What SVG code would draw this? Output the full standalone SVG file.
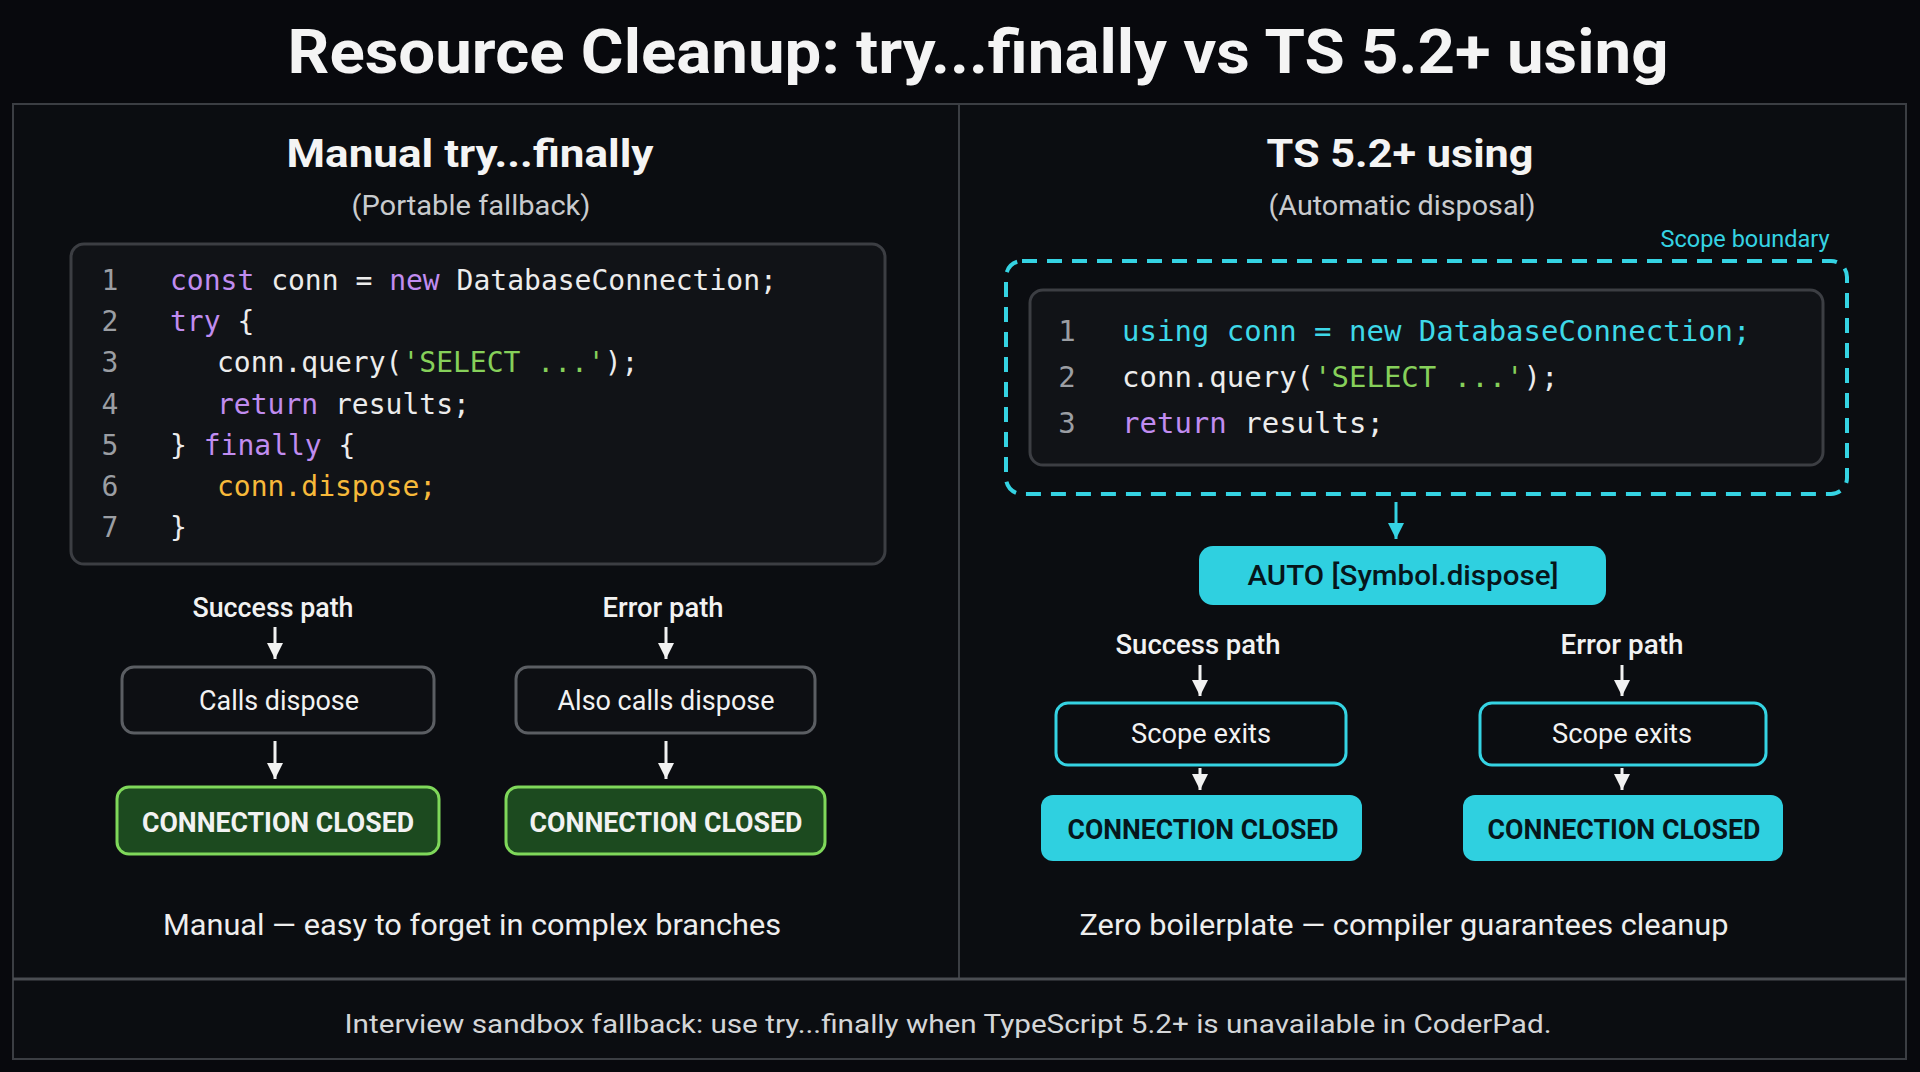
<svg xmlns="http://www.w3.org/2000/svg" width="1920" height="1072" viewBox="0 0 1920 1072">
<style>
.sans{font-family:Roboto,"Liberation Sans",sans-serif}
.mono{font-family:"DejaVu Sans Mono","Liberation Mono",monospace;white-space:pre}
.title{font-size:62px;font-weight:700;fill:#f4f4f4}
.h2{font-size:38px;font-weight:700;fill:#f4f4f4}
.sub{font-size:28px;fill:#c9cbce}
.lbl{font-size:27px;fill:#f2f2f2;font-weight:500}
.node{font-size:27px;fill:#f2f2f2}
.cc{font-size:28px;font-weight:700}
.foot{font-size:29px;fill:#eeeeee}
.note{font-size:26px;fill:#d4d6d8}
.ln{fill:#9b9ea3}
.kw{fill:#c08cf0}
.tx{fill:#ececec}
.st{fill:#86d05a}
.or{fill:#f7b93a}
.cy{fill:#3ed8e8}
.wline{stroke:#f2f2f2;stroke-width:3;fill:none}
.cline{stroke:#35d3e3;stroke-width:3;fill:none}
</style>
<defs>
<marker id="ah" viewBox="0 0 10 10" refX="10" refY="5" markerWidth="16" markerHeight="16" markerUnits="userSpaceOnUse" orient="auto"><path d="M0,0 L10,5 L0,10 z" fill="#f2f2f2"/></marker>
<marker id="ahc" viewBox="0 0 10 10" refX="10" refY="5" markerWidth="16" markerHeight="16" markerUnits="userSpaceOnUse" orient="auto"><path d="M0,0 L10,5 L0,10 z" fill="#35d3e3"/></marker>
</defs>
<rect width="1920" height="1072" fill="#08090d"/>
<text class="sans title" x="978" y="73" text-anchor="middle" textLength="1381" lengthAdjust="spacingAndGlyphs">Resource Cleanup: try...finally vs TS 5.2+ using</text>

<g id="frame">
<rect x="13" y="104" width="1893" height="955" fill="#0b0d11" stroke="#3b3e43" stroke-width="2"/>
<line x1="959" y1="104" x2="959" y2="979" stroke="#3b3e43" stroke-width="2"/>
<line x1="13" y1="979" x2="1906" y2="979" stroke="#4a4d52" stroke-width="3"/>
</g>

<g id="left-header">
<text class="sans h2" x="470" y="167" text-anchor="middle" textLength="367" lengthAdjust="spacingAndGlyphs">Manual try...finally</text>
<text class="sans sub" x="471" y="215" text-anchor="middle" textLength="239" lengthAdjust="spacingAndGlyphs">(Portable fallback)</text>
</g>

<g id="left-code">
<rect x="71" y="244" width="814" height="320" rx="13" fill="#111317" stroke="#3c3e43" stroke-width="3"/>
<g class="mono" font-size="28">
<text class="ln" x="110" y="290" text-anchor="middle">1</text>
<text class="ln" x="110" y="331" text-anchor="middle">2</text>
<text class="ln" x="110" y="372" text-anchor="middle">3</text>
<text class="ln" x="110" y="414" text-anchor="middle">4</text>
<text class="ln" x="110" y="455" text-anchor="middle">5</text>
<text class="ln" x="110" y="496" text-anchor="middle">6</text>
<text class="ln" x="110" y="537" text-anchor="middle">7</text>
<text x="170" y="290" xml:space="preserve"><tspan class="kw">const</tspan><tspan class="tx"> conn = </tspan><tspan class="kw">new</tspan><tspan class="tx"> DatabaseConnection;</tspan></text>
<text x="170" y="331" xml:space="preserve"><tspan class="kw">try</tspan><tspan class="tx"> {</tspan></text>
<text x="217" y="372" xml:space="preserve"><tspan class="tx">conn.query(</tspan><tspan class="st">'SELECT ...'</tspan><tspan class="tx">);</tspan></text>
<text x="217" y="414" xml:space="preserve"><tspan class="kw">return</tspan><tspan class="tx"> results;</tspan></text>
<text x="170" y="455" xml:space="preserve"><tspan class="tx">} </tspan><tspan class="kw">finally</tspan><tspan class="tx"> {</tspan></text>
<text x="217" y="496" class="or">conn.dispose;</text>
<text x="170" y="537" class="tx">}</text>
</g>
</g>

<g id="left-success-label"><text class="sans lbl" x="273" y="617" text-anchor="middle" textLength="161" lengthAdjust="spacingAndGlyphs">Success path</text></g>
<g id="left-error-label"><text class="sans lbl" x="663" y="617" text-anchor="middle" textLength="121" lengthAdjust="spacingAndGlyphs">Error path</text></g>

<g id="calls-dispose">
<rect x="122" y="667" width="312" height="66" rx="12" fill="#0d0f13" stroke="#5b5e63" stroke-width="3"/>
<text class="sans node" x="279" y="710" text-anchor="middle" textLength="160" lengthAdjust="spacingAndGlyphs">Calls dispose</text>
</g>
<g id="also-calls-dispose">
<rect x="516" y="667" width="299" height="66" rx="12" fill="#0d0f13" stroke="#5b5e63" stroke-width="3"/>
<text class="sans node" x="666" y="710" text-anchor="middle" textLength="217" lengthAdjust="spacingAndGlyphs">Also calls dispose</text>
</g>
<g id="left-closed-1">
<rect x="117" y="787" width="322" height="67" rx="12" fill="#1c4a1f" stroke="#7fd85a" stroke-width="3"/>
<text class="sans cc" x="278" y="832" text-anchor="middle" fill="#f2f2f2" textLength="272" lengthAdjust="spacingAndGlyphs">CONNECTION CLOSED</text>
</g>
<g id="left-closed-2">
<rect x="506" y="787" width="319" height="67" rx="12" fill="#1c4a1f" stroke="#7fd85a" stroke-width="3"/>
<text class="sans cc" x="666" y="832" text-anchor="middle" fill="#f2f2f2" textLength="273" lengthAdjust="spacingAndGlyphs">CONNECTION CLOSED</text>
</g>

<g id="left-footer"><text class="sans foot" x="472" y="935" text-anchor="middle" textLength="618" lengthAdjust="spacingAndGlyphs">Manual — easy to forget in complex branches</text></g>

<g id="right-header">
<text class="sans h2" x="1400" y="167" text-anchor="middle" textLength="267" lengthAdjust="spacingAndGlyphs">TS 5.2+ using</text>
<text class="sans sub" x="1402" y="215" text-anchor="middle" textLength="267" lengthAdjust="spacingAndGlyphs">(Automatic disposal)</text>
</g>

<g id="scope-boundary">
<text class="sans" x="1745" y="247" text-anchor="middle" font-size="23" fill="#35d3e3" textLength="169" lengthAdjust="spacingAndGlyphs">Scope boundary</text>
<rect x="1006" y="261" width="841" height="233" rx="16" fill="none" stroke="#35d3e3" stroke-width="4" stroke-dasharray="15 10"/>
</g>

<g id="right-code">
<rect x="1030" y="290" width="793" height="175" rx="13" fill="#111317" stroke="#3c3e43" stroke-width="3"/>
<g class="mono" font-size="29">
<text class="ln" x="1067" y="341" text-anchor="middle">1</text>
<text class="ln" x="1067" y="387" text-anchor="middle">2</text>
<text class="ln" x="1067" y="433" text-anchor="middle">3</text>
<text x="1122" y="341" class="cy">using conn = new DatabaseConnection;</text>
<text x="1122" y="387" xml:space="preserve"><tspan class="tx">conn.query(</tspan><tspan class="st">'SELECT ...'</tspan><tspan class="tx">);</tspan></text>
<text x="1122" y="433" xml:space="preserve"><tspan class="kw">return</tspan><tspan class="tx"> results;</tspan></text>
</g>
</g>

<g id="auto-dispose">
<rect x="1199" y="546" width="407" height="59" rx="14" fill="#2fd0e0"/>
<text class="sans" x="1403" y="585" text-anchor="middle" font-size="28" font-weight="500" fill="#06161b" textLength="311" lengthAdjust="spacingAndGlyphs">AUTO [Symbol.dispose]</text>
</g>

<g id="right-success-label"><text class="sans lbl" x="1198" y="654" text-anchor="middle" textLength="165" lengthAdjust="spacingAndGlyphs">Success path</text></g>
<g id="right-error-label"><text class="sans lbl" x="1622" y="654" text-anchor="middle" textLength="123" lengthAdjust="spacingAndGlyphs">Error path</text></g>

<g id="scope-exits-1">
<rect x="1056" y="703" width="290" height="62" rx="12" fill="#0b0d11" stroke="#35d3e3" stroke-width="3"/>
<text class="sans node" x="1201" y="743" text-anchor="middle" textLength="140" lengthAdjust="spacingAndGlyphs">Scope exits</text>
</g>
<g id="scope-exits-2">
<rect x="1480" y="703" width="286" height="62" rx="12" fill="#0b0d11" stroke="#35d3e3" stroke-width="3"/>
<text class="sans node" x="1622" y="743" text-anchor="middle" textLength="140" lengthAdjust="spacingAndGlyphs">Scope exits</text>
</g>
<g id="right-closed-1">
<rect x="1041" y="795" width="321" height="66" rx="12" fill="#2fd0e0"/>
<text class="sans cc" x="1203" y="839" text-anchor="middle" fill="#06161b" textLength="271" lengthAdjust="spacingAndGlyphs">CONNECTION CLOSED</text>
</g>
<g id="right-closed-2">
<rect x="1463" y="795" width="320" height="66" rx="12" fill="#2fd0e0"/>
<text class="sans cc" x="1624" y="839" text-anchor="middle" fill="#06161b" textLength="273" lengthAdjust="spacingAndGlyphs">CONNECTION CLOSED</text>
</g>

<g id="right-footer"><text class="sans foot" x="1404" y="935" text-anchor="middle" textLength="649" lengthAdjust="spacingAndGlyphs">Zero boilerplate — compiler guarantees cleanup</text></g>

<g id="bottom-note"><text class="sans note" x="948" y="1033" text-anchor="middle" textLength="1207" lengthAdjust="spacingAndGlyphs">Interview sandbox fallback: use try...finally when TypeScript 5.2+ is unavailable in CoderPad.</text></g>

<g id="connectors">
<line class="wline" x1="275" y1="627" x2="275" y2="659" marker-end="url(#ah)"/>
<line class="wline" x1="666" y1="627" x2="666" y2="659" marker-end="url(#ah)"/>
<line class="wline" x1="275" y1="741" x2="275" y2="779" marker-end="url(#ah)"/>
<line class="wline" x1="666" y1="741" x2="666" y2="779" marker-end="url(#ah)"/>
<line class="cline" x1="1396" y1="502" x2="1396" y2="539" marker-end="url(#ahc)"/>
<line class="wline" x1="1200" y1="665" x2="1200" y2="696" marker-end="url(#ah)"/>
<line class="wline" x1="1622" y1="665" x2="1622" y2="696" marker-end="url(#ah)"/>
<line class="wline" x1="1200" y1="768" x2="1200" y2="790" marker-end="url(#ah)"/>
<line class="wline" x1="1622" y1="768" x2="1622" y2="790" marker-end="url(#ah)"/>
</g>
</svg>
